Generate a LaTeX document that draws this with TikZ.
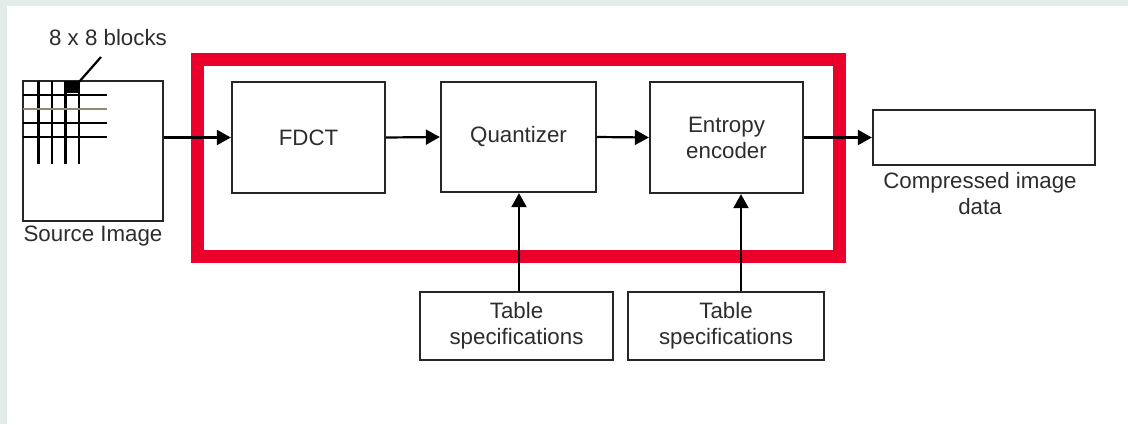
\documentclass[tikz,border=0pt]{standalone}
\usepackage{fontspec}
\setmainfont{Liberation Sans}
\usetikzlibrary{arrows.meta}
\definecolor{bgstrip}{RGB}{227,236,233}
\definecolor{redframe}{RGB}{234,0,42}
\definecolor{ink}{RGB}{38,38,38}
\definecolor{txt}{RGB}{45,45,45}
\definecolor{tanline}{RGB}{150,135,110}
\begin{document}
\begin{tikzpicture}[x=1pt,y=-1pt,
  lbl/.style={text=txt, font=\fontsize{22.3}{26}\selectfont, align=center, inner sep=0pt},
  blk/.style={draw=ink, line width=2.3pt, fill=white, inner sep=0pt, lbl},
  arr/.style={-{Triangle[length=14pt,width=15pt]}, line width=2.2pt, draw=black},
  gridline/.style={line width=2.5pt, draw=black},
  leader/.style={line width=2.2pt, draw=black}]

% canvas: tinted strip on top and left, white page
\fill[bgstrip] (0,0) rectangle (1128,424);
\fill[white] (7,6) rectangle (1128,424);
\useasboundingbox (0,0) rectangle (1128,424);

% red outline around the core stages
\node[draw=redframe, line width=13pt, minimum width=642pt, minimum height=197pt, inner sep=0pt] (frame) at (518.5,157.5) {};

% source image with its 8x8 block grid
\node[blk, minimum width=140pt, minimum height=140pt] (src) at (93,151) {};
\foreach \gx in {38.5,52,65.5,79} \draw[gridline] (\gx,81) -- (\gx,164);
\foreach \gy/\gc in {95/black,109/tanline,123/black,137/black} \draw[gridline, draw=\gc] (23,\gy) -- (107,\gy);
\fill[black] (66,81) rectangle (79.5,93);
\node[lbl] (blocks) at (108,37.5) {8 x 8 blocks};
\coordinate (leadtop) at (101,57);
\coordinate (leadfoot) at (79,82);
\draw[leader] (leadtop) -- (leadfoot);
\node[lbl] (srclbl) at (93,236.5) {Source Image};

% processing stages
\node[blk, minimum width=153pt, minimum height=111pt] (fdct) at (308.5,137.5) {FDCT};
\node[blk, minimum width=155pt, minimum height=110pt] (quant) at (518.5,137) {Quantizer};
\node[blk, minimum width=153pt, minimum height=111pt] (enc) at (726.5,137.5) {Entropy\\encoder};

% output
\node[blk, minimum width=222pt, minimum height=55pt] (out) at (984,137.5) {};
\node[lbl] (outlbl) at (980,193.5) {Compressed image\\data};

% table specification inputs
\node[blk, minimum width=193pt, minimum height=68pt] (tq) at (516.5,326) {Table\\specifications};
\node[blk, minimum width=196pt, minimum height=68pt] (te) at (726,326) {Table\\specifications};

% flow
\draw[arr] (src.east |- fdct.west) -- (fdct.west);
\draw[arr] (fdct.east) -- (quant.west);
\draw[arr] (quant.east) -- (enc.west);
\draw[arr] (enc.east) -- (out.west);

\coordinate (qin) at (519,0);
\coordinate (ein) at (741,0);
\draw[arr] (tq.north -| qin) -- (quant.south -| qin);
\draw[arr] (te.north -| ein) -- (enc.south -| ein);
\end{tikzpicture}
\end{document}
